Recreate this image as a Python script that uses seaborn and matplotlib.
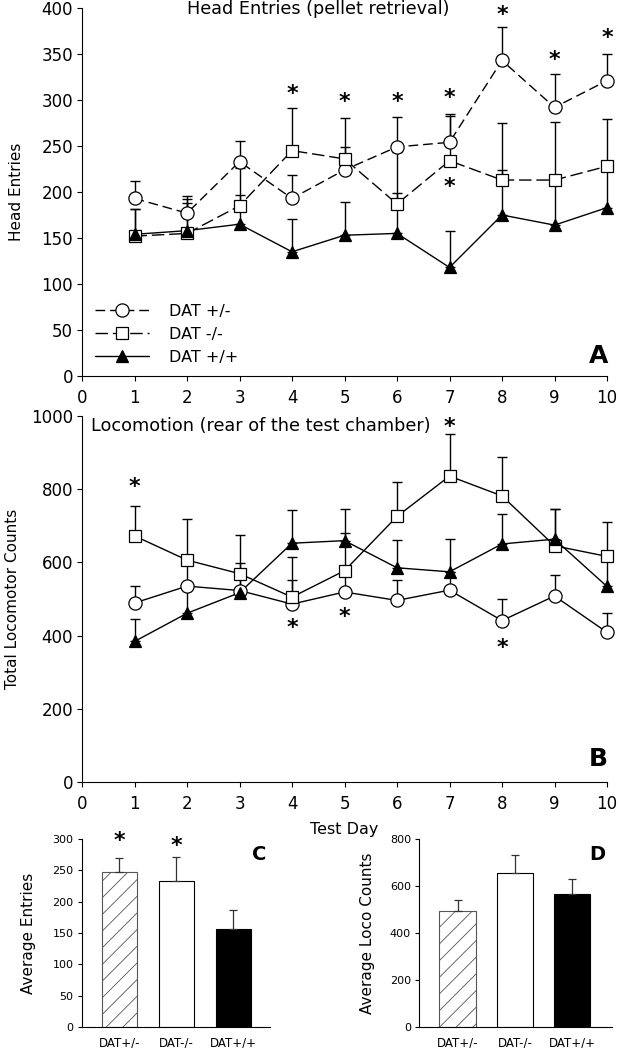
import numpy as np
import pandas as pd
import matplotlib
matplotlib.use('Agg')
import matplotlib.pyplot as plt
import seaborn as sns
from matplotlib.lines import Line2D

# ---------------- data ----------------
days = [1, 2, 3, 4, 5, 6, 7, 8, 9, 10]
groups = ['DAT +/-', 'DAT -/-', 'DAT +/+']

# Panel A: head entries (mean, SEM)
head_het = [193, 177, 233, 193, 224, 249, 254, 343, 292, 321]
head_het_sem = [19, 19, 22, 26, 25, 32, 31, 36, 36, 29]
head_ko = [152, 155, 185, 245, 236, 187, 234, 213, 213, 228]
head_ko_sem = [30, 33, 41, 46, 44, 56, 49, 62, 63, 51]
head_wt = [154, 158, 165, 135, 153, 155, 118, 175, 164, 183]
head_wt_sem = [27, 34, 32, 36, 36, 44, 40, 49, 44, 41]

# Panel B: locomotion (mean, SEM)
loco_het = [489, 535, 523, 486, 519, 496, 524, 441, 508, 409]
loco_het_sem = [46, 60, 40, 65, 55, 55, 50, 60, 57, 54]
loco_ko = [672, 606, 569, 505, 577, 725, 835, 781, 645, 616]
loco_ko_sem = [81, 111, 106, 109, 104, 95, 114, 105, 100, 93]
loco_wt = [384, 461, 517, 652, 659, 585, 574, 650, 663, 534]
loco_wt_sem = [62, 80, 82, 90, 86, 76, 89, 81, 82, 80]

# significance stars (day, y position in data units)
stars_A_days = [4, 5, 6, 7, 8, 9, 10, 7]
stars_A_y = [310, 301, 301, 305, 396, 347, 370, 209]
stars_B_days = [1, 4, 5, 7, 8]
stars_B_y = [813, 430, 459, 977, 375]

# Panels C, D: averages
bar_labels = ['DAT+/-', 'DAT-/-', 'DAT+/+']
avg_entries = [247, 233, 156]
avg_entries_sem = [22, 38, 30]
avg_loco = [494, 656, 567]
avg_loco_sem = [45, 77, 64]
stars_C_idx = [0, 1]
stars_C_y = [301, 293]

# ---------------- style ----------------
sns.set_style('ticks')
plt.rcParams['font.family'] = ['DejaVu Sans']
plt.rcParams['hatch.linewidth'] = 0.6
plt.rcParams['axes.linewidth'] = 0.8
for key in ['text.color', 'axes.labelcolor', 'xtick.color', 'ytick.color', 'axes.edgecolor']:
    plt.rcParams[key] = 'black'

fig = plt.figure(figsize=(6.18, 10.48), dpi=100)
axA = fig.add_axes([0.1327, 0.64122, 0.8495, 0.35115])
axB = fig.add_axes([0.1327, 0.25353, 0.8495, 0.3499])
axC = fig.add_axes([0.1327, 0.02004, 0.3042, 0.17939])
axD = fig.add_axes([0.6785, 0.02004, 0.3113, 0.17939])

markers = {'DAT +/-': ('o', 'white', 9.5), 'DAT -/-': ('s', 'white', 8.6), 'DAT +/+': ('^', 'black', 9.0)}
dash_A = {'DAT +/-': (0, (7, 3.5)), 'DAT -/-': (0, (9, 3.5)), 'DAT +/+': '-'}


def draw_series(ax, y, sem, group, ls):
    m, fc, ms = markers[group]
    ax.errorbar(days, y, yerr=[np.zeros(len(sem)), sem], fmt='none', ecolor='black',
                elinewidth=1.0, capsize=3.5, capthick=1.0, zorder=2, clip_on=False)
    sns.lineplot(x=days, y=y, ax=ax, color='black', linewidth=1.0, linestyle=ls,
                 errorbar=None, zorder=3, clip_on=False)
    ax.plot(days, y, linestyle='none', marker=m, markersize=ms, markerfacecolor=fc,
            markeredgecolor='black', markeredgewidth=0.9, zorder=4, clip_on=False)


def star(ax, x, y, fs=16):
    ax.annotate('*', (x, y), xytext=(0, -0.4 * fs), textcoords='offset points',
                ha='center', va='baseline', fontsize=fs, fontweight='bold', annotation_clip=False)


# ---- Panel A ----
for vals, sem, g in [(head_het, head_het_sem, groups[0]), (head_ko, head_ko_sem, groups[1]),
                     (head_wt, head_wt_sem, groups[2])]:
    draw_series(axA, vals, sem, g, dash_A[g])
axA.set_xlim(0, 10)
axA.set_ylim(0, 400)
axA.set_xticks(range(0, 11))
axA.set_yticks(range(0, 401, 50))
axA.set_xlabel('')
axA.set_ylabel('Head Entries', fontsize=11)
axA.yaxis.set_label_coords(-0.110, 0.5)
axA.text(0.4495, 0.997, 'Head Entries (pellet retrieval)', transform=axA.transAxes,
         ha='center', va='center', fontsize=12.7)
for d, yy in zip(stars_A_days, stars_A_y):
    star(axA, d, yy)
axA.text(0.983, 0.054, 'A', transform=axA.transAxes, ha='center', va='center',
         fontsize=18, fontweight='bold')
handles = []
for g in groups:
    m, fc, ms = markers[g]
    handles.append(Line2D([], [], color='black', linewidth=1.0, linestyle=dash_A[g], marker=m,
                          markersize=ms, markerfacecolor=fc, markeredgecolor='black',
                          markeredgewidth=0.9))
axA.legend(handles, groups, loc='upper left', bbox_to_anchor=(0.0248, 0.196), frameon=False,
           fontsize=11.5, handlelength=3.4, handletextpad=1.2, labelspacing=0.5,
           borderpad=0, borderaxespad=0, numpoints=1)

# ---- Panel B ----
for vals, sem, g in [(loco_het, loco_het_sem, groups[0]), (loco_ko, loco_ko_sem, groups[1]),
                     (loco_wt, loco_wt_sem, groups[2])]:
    draw_series(axB, vals, sem, g, '-')
axB.set_xlim(0, 10)
axB.set_ylim(0, 1000)
axB.set_xticks(range(0, 11))
axB.set_yticks(range(0, 1001, 200))
axB.set_xlabel('Test Day', fontsize=11.5, labelpad=6)
axB.set_ylabel('Total Locomotor Counts', fontsize=11)
axB.yaxis.set_label_coords(-0.118, 0.5)
axB.text(0.017, 0.9716, 'Locomotion (rear of the test chamber)', transform=axB.transAxes,
         ha='left', va='center', fontsize=12.7)
for d, yy in zip(stars_B_days, stars_B_y):
    star(axB, d, yy)
axB.text(0.983, 0.0635, 'B', transform=axB.transAxes, ha='center', va='center',
         fontsize=18, fontweight='bold')

for ax in (axA, axB):
    sns.despine(ax=ax)
    ax.tick_params(axis='both', direction='out', length=3.5, width=0.8, labelsize=12,
                   colors='black')
    ax.tick_params(axis='y', pad=3)
    ax.tick_params(axis='x', pad=6)

# ---- Panels C, D ----
bar_palette = dict(zip(bar_labels, ['white', 'white', 'black']))


def bars(ax, vals, sem, ymax, ystep, ylabel, xlim, width, letter, lx):
    df = pd.DataFrame({'genotype': bar_labels, 'value': vals})
    sns.barplot(data=df, x='genotype', y='value', hue='genotype', palette=bar_palette,
                width=width, edgecolor='black', linewidth=0.8, errorbar=None, legend=False,
                saturation=1, ax=ax)
    p0 = ax.patches[0]
    p0.set_hatch('//')
    p0.set_edgecolor('#555555')
    ax.errorbar(range(3), vals, yerr=[np.zeros(3), sem], fmt='none', ecolor='#333333',
                elinewidth=0.9, capsize=2.6, capthick=0.9, zorder=1)
    ax.set_ylim(0, ymax)
    ax.set_yticks(range(0, ymax + 1, ystep))
    ax.set_xlim(*xlim)
    ax.set_xlabel('')
    ax.set_ylabel(ylabel, fontsize=11)
    ax.yaxis.set_label_coords(lx, 0.5)
    sns.despine(ax=ax)
    ax.tick_params(axis='y', direction='out', length=3, width=0.8, labelsize=8, pad=3)
    ax.tick_params(axis='x', length=0, labelsize=8.5, pad=7)
    ax.text(letter[1], 0.915, letter[0], transform=ax.transAxes, ha='center', va='center',
            fontsize=14, fontweight='bold')


bars(axC, avg_entries, avg_entries_sem, 300, 50, 'Average Entries', (-0.653, 2.64), 0.61,
     ('C', 0.94), -0.245)
for i, yy in zip(stars_C_idx, stars_C_y):
    star(axC, i, yy)
bars(axD, avg_loco, avg_loco_sem, 800, 200, 'Average Loco Counts', (-0.667, 2.69), 0.63,
     ('D', 0.924), -0.23)

fig.savefig('out.png', dpi=100)
